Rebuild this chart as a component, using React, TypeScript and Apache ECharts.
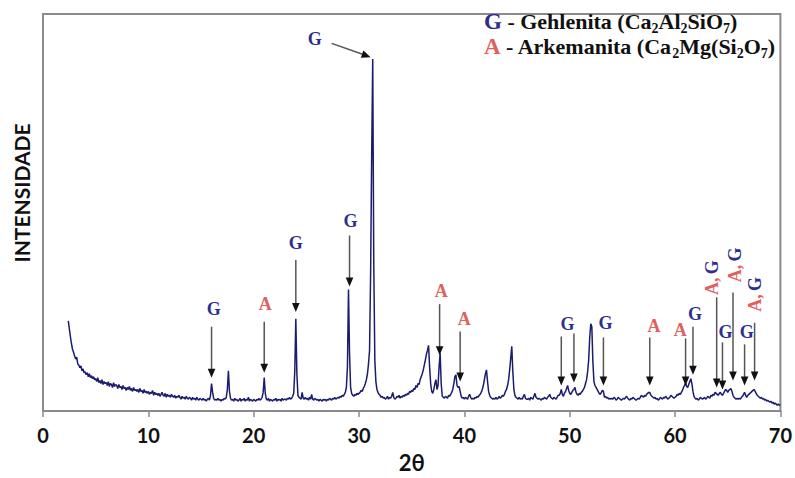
import React, { useEffect, useRef } from "react";
import * as echarts from "echarts";

// Diffractogram intensity (arbitrary counts), sampled every 0.1° 2θ
const scan_02_10 = [
  92, 84, 76, 69, 63, 60,
  56, 53, 55, 48, 47, 44, 46, 41, 43, 39,
  40, 37, 39, 35, 38, 34, 36, 33, 35, 32,
  33, 30, 34, 29, 31, 28, 32, 27, 30, 28,
  29, 26, 30, 25, 28, 27, 24, 29, 25, 27,
  26, 23, 27, 24, 25, 22, 26, 23, 24, 21,
  24, 22, 25, 21, 23, 20, 24, 21, 22, 20,
  22, 19, 23, 20, 21, 18, 22, 19, 20, 18,
];
const scan_10_20 = [
  20, 17, 19, 18, 21, 16, 19, 17, 18, 16,
  18, 15, 17, 19, 16, 15, 18, 14, 17, 15,
  16, 14, 17, 15, 14, 16, 13, 15, 14, 16,
  14, 12, 15, 13, 14, 12, 15, 13, 12, 14,
  13, 11, 14, 12, 13, 11, 14, 12, 11, 13,
  12, 11, 13, 11, 12, 10, 12, 13, 11, 16,
  28, 19, 13, 11, 12, 11, 13, 11, 12, 10,
  12, 11, 13, 12, 14, 22, 41, 20, 13, 11,
  12, 10, 13, 11, 12, 10, 11, 13, 10, 12,
  11, 13, 10, 12, 11, 14, 10, 12, 11, 10,
];
const scan_20_30 = [
  12, 11, 10, 12, 11, 13, 11, 12, 14, 19,
  34, 18, 12, 11, 13, 10, 12, 11, 10, 12,
  11, 13, 10, 12, 11, 12, 10, 13, 11, 12,
  12, 11, 13, 12, 14, 12, 13, 15, 18, 40,
  94, 38, 16, 14, 13, 12, 19, 13, 12, 14,
  12, 13, 11, 14, 12, 17, 12, 11, 13, 12,
  11, 12, 10, 12, 11, 10, 12, 11, 12, 10,
  12, 11, 13, 12, 11, 13, 12, 14, 12, 13,
  14, 13, 15, 14, 16, 15, 17, 19, 24, 45,
  124, 58, 24, 18, 16, 15, 17, 16, 18, 17,
];
const scan_30_40 = [
  18, 19, 21, 20, 23, 25, 28, 32, 38, 48,
  62, 140, 260, 359, 150, 52, 30, 22, 19, 17,
  16, 14, 15, 13, 14, 12, 13, 15, 12, 14,
  13, 15, 19, 14, 12, 13, 15, 14, 16, 13,
  15, 14, 16, 15, 17, 16, 18, 17, 20, 19,
  21, 20, 23, 22, 26, 24, 28, 27, 32, 35,
  38, 42, 47, 52, 58, 62, 67, 45, 28, 20,
  18, 22, 28, 32, 22, 26, 45, 59, 28, 15,
  14, 13, 15, 14, 13, 16, 15, 17, 19, 22,
  28, 35, 37, 26, 24, 25, 20, 15, 13, 14,
];
const scan_40_50 = [
  12, 14, 13, 12, 15, 17, 14, 12, 13, 12,
  14, 13, 15, 14, 16, 17, 19, 22, 26, 32,
  38, 42, 30, 20, 16, 14, 13, 12, 13, 12,
  14, 12, 13, 15, 13, 14, 16, 15, 17, 20,
  22, 26, 32, 42, 54, 66, 40, 22, 16, 14,
  13, 12, 14, 12, 13, 12, 15, 17, 13, 12,
  12, 13, 11, 14, 13, 12, 15, 18, 14, 13,
  12, 13, 12, 11, 13, 12, 14, 13, 12, 14,
  15, 17, 14, 13, 12, 14, 13, 12, 14, 16,
  16, 18, 22, 17, 15, 18, 20, 23, 26, 21,
];
const scan_50_60 = [
  18, 17, 19, 21, 22, 24, 19, 17, 16, 18,
  17, 19, 20, 22, 24, 28, 32, 40, 52, 75,
  89, 86, 50, 30, 26, 24, 22, 20, 18, 17,
  19, 21, 20, 14, 15, 13, 14, 12, 13, 12,
  13, 12, 14, 13, 11, 12, 14, 13, 12, 11,
  12, 13, 12, 14, 15, 13, 12, 11, 13, 12,
  14, 13, 12, 11, 12, 13, 12, 14, 16, 15,
  14, 16, 15, 17, 18, 19, 19, 16, 15, 14,
  13, 14, 12, 13, 11, 12, 14, 13, 12, 14,
  13, 15, 14, 12, 13, 14, 16, 15, 14, 13,
];
const scan_60_70 = [
  14, 15, 17, 16, 18, 17, 19, 21, 24, 26,
  29, 25, 24, 27, 30, 33, 28, 20, 15, 13,
  12, 13, 11, 12, 14, 13, 12, 13, 14, 12,
  13, 15, 14, 13, 16, 15, 17, 16, 19, 18,
  17, 16, 18, 19, 17, 16, 18, 20, 22, 21,
  19, 21, 22, 23, 20, 16, 14, 13, 12, 13,
  12, 13, 12, 14, 15, 17, 19, 16, 14, 16,
  17, 18, 19, 20, 21, 22, 20, 18, 16, 15,
  14, 13, 14, 12, 13, 11, 12, 10, 11, 10,
  9, 10, 8, 9, 7, 8, 7, 6, 7, 6,
  6,
];
const segmentStarts = [2.4, 10, 20, 30, 40, 50, 60];
const segmentCounts = [scan_02_10, scan_10_20, scan_20_30, scan_30_40, scan_40_50, scan_50_60, scan_60_70];
const STEP = 0.1;

const xTicks = [0, 10, 20, 30, 40, 50, 60, 70];

// Phase markers (2θ, arrow start/end intensity)
const arrowAt = [16.0, 21.0, 24.0, 29.1, 37.65, 39.6, 49.2, 50.4, 53.2, 57.6, 61.0, 61.7, 63.95, 64.5, 65.5, 66.6, 67.55];
const arrowFrom = [86, 91, 154, 179, 109, 81, 76, 79, 75, 75, 74, 86, 116, 70, 121, 68, 90];
const arrowTo = [34, 39, 101, 127, 57, 30, 26, 29, 26, 26, 26, 37, 24, 22, 31, 26, 31];

const labelText = ["G", "A", "G", "G", "G", "A", "A", "G", "G", "A", "A", "G", "AG", "G", "AG", "G", "AG"];
const labelX = [16.2, 21.1, 24.0, 29.2, 25.8, 37.8, 40.0, 49.8, 53.4, 58.0, 60.5, 61.9, 63.5, 64.8, 65.65, 66.8, 67.6];
const labelY = [104, 109, 171, 194, 379, 122, 94, 89, 90, 87, 83, 99, 136, 81, 149, 81, 119];

const mainArrowFrom = [27.4, 375];
const mainArrowTo = [31.1, 361];

const G_COLOR = "#2e2e8e";
const A_COLOR = "#e0605e";

export default function App() {
  const ref = useRef<HTMLDivElement>(null);

  useEffect(() => {
    if (!ref.current) return;
    const chart = echarts.init(ref.current, null, { renderer: "svg" });

    const pattern: number[][] = [];
    segmentCounts.forEach((counts, s) => {
      counts.forEach((c, i) => {
        pattern.push([+(segmentStarts[s] + i * STEP).toFixed(2), c]);
      });
    });

    chart.setOption({
      animation: false,
      backgroundColor: "#ffffff",
      grid: {
        left: 43,
        right: 12,
        top: 14,
        bottom: 59,
        show: true,
        borderColor: "#8a8a8a",
        borderWidth: 2,
      },
      xAxis: {
        type: "value",
        min: xTicks[0],
        max: xTicks[xTicks.length - 1],
        interval: 10,
        name: "2θ",
        nameLocation: "middle",
        nameGap: 40,
        nameTextStyle: { fontSize: 22, fontWeight: "bold", color: "#111", fontFamily: "Lato" },
        axisLine: { show: true, lineStyle: { color: "#8a8a8a", width: 2 } },
        axisTick: { show: true, length: 6, lineStyle: { color: "#8a8a8a", width: 1.5 } },
        axisLabel: { fontSize: 20, fontWeight: "bold", color: "#111", fontFamily: "Lato", margin: 14 },
        splitLine: { show: false },
      },
      yAxis: {
        type: "value",
        min: 0,
        max: 405,
        axisLine: { show: true, lineStyle: { color: "#8a8a8a", width: 2 } },
        axisTick: { show: false },
        axisLabel: { show: false },
        splitLine: { show: false },
      },
      series: [
        {
          type: "line",
          data: pattern,
          showSymbol: false,
          symbol: "none",
          lineStyle: { color: "#1c1c6e", width: 1.5 },
          z: 2,
        },
      ],
    });

    const px = (p: number[]) => chart.convertToPixel({ xAxisIndex: 0, yAxisIndex: 0 }, p) as number[];
    const graphics: any[] = [];
    const shaft = "#555555";
    const head = "#111111";

    const addArrow = (a: number[], b: number[]) => {
      const dx = b[0] - a[0];
      const dy = b[1] - a[1];
      const len = Math.sqrt(dx * dx + dy * dy);
      const ux = dx / len;
      const uy = dy / len;
      const hl = 9;
      const hw = 3.8;
      const bx = b[0] - ux * hl;
      const by = b[1] - uy * hl;
      graphics.push({
        type: "line",
        z: 10,
        shape: { x1: a[0], y1: a[1], x2: bx + ux * 2, y2: by + uy * 2 },
        style: { stroke: shaft, lineWidth: 1.5 },
      });
      graphics.push({
        type: "polygon",
        z: 10,
        shape: {
          points: [
            [b[0], b[1]],
            [bx - uy * hw, by + ux * hw],
            [bx + uy * hw, by - ux * hw],
          ],
        },
        style: { fill: head },
      });
    };

    arrowAt.forEach((x, i) => {
      addArrow(px([x, arrowFrom[i]]), px([x, arrowTo[i]]));
    });
    addArrow(px(mainArrowFrom), px(mainArrowTo));

    const labelFont = { fontFamily: "Liberation Serif", fontWeight: "bold", fontSize: 18 };
    labelText.forEach((t, i) => {
      const p = px([labelX[i], labelY[i]]);
      if (t === "AG") {
        graphics.push({
          type: "text",
          z: 11,
          x: p[0],
          y: p[1],
          rotation: Math.PI / 2,
          style: {
            text: "{a|A,} {g|G}",
            align: "center",
            verticalAlign: "middle",
            rich: {
              a: { ...labelFont, fill: A_COLOR, color: A_COLOR },
              g: { ...labelFont, fill: G_COLOR, color: G_COLOR },
            },
          },
        });
      } else {
        graphics.push({
          type: "text",
          z: 11,
          x: p[0],
          y: p[1],
          style: {
            text: t,
            ...labelFont,
            fill: t === "G" ? G_COLOR : A_COLOR,
            align: "center",
            verticalAlign: "middle",
          },
        });
      }
    });

    // Y-axis title
    graphics.push({
      type: "text",
      x: 21,
      y: 193,
      rotation: Math.PI / 2,
      style: {
        text: "INTENSIDADE",
        fontFamily: "Lato",
        fontWeight: "bold",
        fontSize: 21,
        fill: "#111",
        align: "center",
        verticalAlign: "middle",
      },
    });

    // Legend
    const t = { fontFamily: "Liberation Serif", fontWeight: "bold", fontSize: 22, fill: "#111", color: "#111", lineHeight: 27 };
    const s = { fontFamily: "Liberation Serif", fontWeight: "bold", fontSize: 14, fill: "#111", color: "#111", lineHeight: 12, verticalAlign: "bottom" };
    const legendRich = {
      t,
      s,
      g: { ...t, fontSize: 23, fill: G_COLOR, color: G_COLOR },
      a: { ...t, fontSize: 23, fill: A_COLOR, color: A_COLOR },
    };
    graphics.push({
      type: "text",
      x: 484,
      y: 8,
      z: 12,
      style: {
        text: "{g|G}{t| - Gehlenita (Ca}{s|2}{t|Al}{s|2}{t|SiO}{s|7}{t|)}",
        rich: legendRich,
        align: "left",
        verticalAlign: "top",
      },
    });
    graphics.push({
      type: "text",
      x: 484,
      y: 33,
      z: 12,
      style: {
        text: "{a|A}{t| - Arkemanita (Ca}{s|2}{t|Mg(Si}{s|2}{t|O}{s|7}{t|)}",
        rich: legendRich,
        align: "left",
        verticalAlign: "top",
      },
    });

    chart.setOption({ graphic: graphics });

    return () => chart.dispose();
  }, []);

  return (
    <div
      ref={ref}
      style={{ position: "fixed", left: 0, top: 0, width: 795, height: 478, background: "#fff" }}
    />
  );
}
